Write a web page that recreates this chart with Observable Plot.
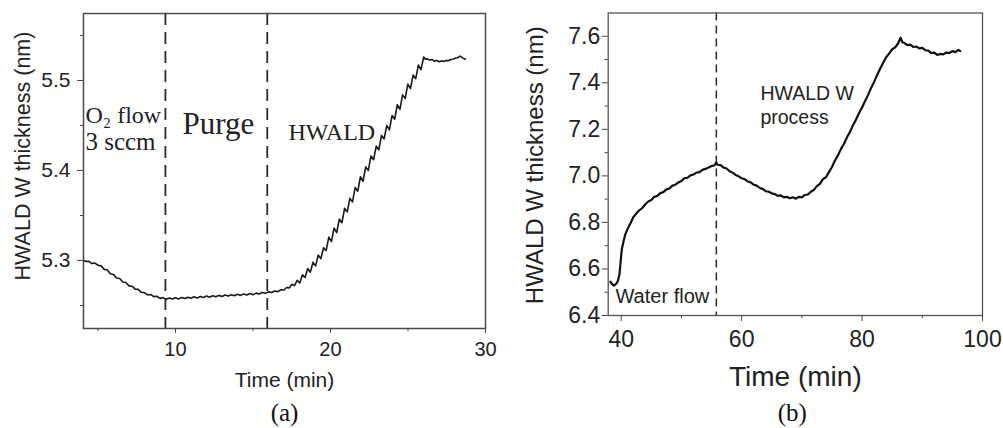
<!DOCTYPE html>
<html><head><meta charset="utf-8">
<script src="https://cdn.jsdelivr.net/npm/d3@7"></script>
<script src="https://cdn.jsdelivr.net/npm/@observablehq/plot@0.6"></script>
<style>
html,body{margin:0;padding:0;background:#fff;}
#wrap{display:flex;width:1003px;height:428px;overflow:hidden;}
</style></head><body><div id="wrap"><div id="pa"></div><div id="pb"></div></div>
<script>
// ---------- Panel (a) data: [time (min), thickness (nm)] ----------
const seriesA = [
[4.07,5.3003],[4.2,5.2990],[4.4,5.2992],[4.6,5.2966],[4.8,5.2971],[5.0,5.2947],[5.2,5.2940],[5.4,5.2901],
[5.6,5.2893],[5.8,5.2852],[6.0,5.2843],[6.2,5.2806],[6.4,5.2800],[6.6,5.2760],[6.8,5.2755],[7.0,5.2718],
[7.2,5.2714],[7.4,5.2681],[7.6,5.2679],[7.8,5.2646],[8.0,5.2642],[8.2,5.2617],[8.4,5.2622],[8.6,5.2598],
[8.8,5.2602],[9.0,5.2579],[9.2,5.2587],[9.4,5.2568],[9.6,5.2583],[9.8,5.2571],[10.0,5.2586],[10.2,5.2573],
[10.4,5.2589],[10.6,5.2577],[10.8,5.2592],[11.0,5.2580],[11.2,5.2596],[11.4,5.2584],[11.6,5.2600],[11.8,5.2588],
[12.0,5.2604],[12.2,5.2592],[12.4,5.2608],[12.6,5.2596],[12.8,5.2612],[13.0,5.2600],[13.2,5.2616],[13.4,5.2604],
[13.6,5.2620],[13.8,5.2608],[14.0,5.2624],[14.2,5.2612],[14.4,5.2628],[14.6,5.2616],[14.8,5.2632],[15.0,5.2620],
[15.2,5.2637],[15.4,5.2627],[15.6,5.2645],[15.8,5.2635],[16.0,5.2651],[16.2,5.2643],[16.4,5.2660],[16.6,5.2654],
[16.8,5.2674],
[17.00,5.2672],[17.17,5.2700],[17.34,5.2695],[17.51,5.2735],[17.68,5.2720],[17.85,5.2780],
[18.02,5.2750],[18.19,5.2840],[18.36,5.2810],[18.53,5.2910],[18.70,5.2870],[18.87,5.2980],
[19.04,5.2940],[19.21,5.3060],[19.38,5.3020],[19.55,5.3140],[19.72,5.3110],[19.89,5.3260],
[20.06,5.3210],[20.23,5.3360],[20.40,5.3310],[20.57,5.3460],[20.74,5.3420],[20.91,5.3580],
[21.08,5.3540],[21.25,5.3690],[21.42,5.3650],[21.59,5.3810],[21.76,5.3770],[21.93,5.3930],
[22.10,5.3880],[22.27,5.4040],[22.44,5.4000],[22.61,5.4160],[22.78,5.4120],[22.95,5.4270],
[23.12,5.4230],[23.29,5.4390],[23.46,5.4350],[23.63,5.4500],[23.80,5.4450],[23.97,5.4610],
[24.14,5.4570],[24.31,5.4730],[24.48,5.4680],[24.65,5.4840],[24.82,5.4800],[24.99,5.4960],
[25.16,5.4910],[25.33,5.5060],[25.50,5.5020],[25.67,5.5170],[25.84,5.5120],[26.01,5.5260],
[26.12,5.5235],[26.25,5.5240],[26.4,5.5228],[26.55,5.5232],[26.7,5.5215],[26.85,5.5222],[27.0,5.5208],
[27.15,5.5216],[27.3,5.5212],[27.45,5.5222],[27.6,5.5220],[27.75,5.5232],[27.9,5.5236],[28.05,5.5248],
[28.2,5.5252],[28.35,5.5270],[28.45,5.5262],[28.55,5.5248],[28.7,5.5236]
];
const dashTimesA = [9.35, 15.92];
const xTicksA = [10, 20, 30];
const xMinorA = [5, 15, 25];
const yTicksA = [5.3, 5.4, 5.5];
const yMinorA = [5.25, 5.35, 5.45, 5.55];
const labelsA = ["O\u2082 flow", "3 sccm", "Purge", "HWALD"];
const yTitle = "HWALD W thickness (nm)";
const xTitle = "Time (min)";

// ---------- Panel (b) data ----------
const seriesB = [
[38.2,6.545],[38.5,6.535],[38.8,6.528],[39.1,6.535],[39.4,6.545],[39.7,6.575],[39.9,6.630],[40.1,6.685],
[40.4,6.720],[40.7,6.750],[41.0,6.768],[41.3,6.785],[41.6,6.800],[42.0,6.822],[42.5,6.838],[43.0,6.852],
[43.5,6.862],[44.0,6.878],[44.5,6.890],[45.0,6.896],[45.5,6.910],[46.0,6.914],[46.5,6.926],[47.0,6.930],
[47.5,6.942],[48.0,6.946],[48.5,6.958],[49.0,6.962],[49.5,6.972],[50.0,6.978],[50.5,6.990],[51.0,6.992],
[51.5,7.002],[52.0,7.006],[52.5,7.014],[53.0,7.016],[53.5,7.026],[54.0,7.030],[54.5,7.036],[55.0,7.042],
[55.5,7.046],[55.8,7.058],[56.0,7.048],[56.5,7.046],[57.0,7.036],[57.5,7.032],[58.0,7.020],[58.5,7.014],
[59.0,7.004],[59.5,6.998],[60.0,6.990],[60.5,6.986],[61.0,6.976],[61.5,6.972],[62.0,6.962],[62.5,6.958],
[63.0,6.948],[63.5,6.944],[64.0,6.934],[64.5,6.932],[65.0,6.925],[65.5,6.922],[66.0,6.914],[66.5,6.916],
[67.0,6.908],[67.5,6.910],[68.0,6.904],[68.5,6.908],[69.0,6.902],[69.5,6.910],[70.0,6.908],[70.5,6.918],
[71.0,6.920],[71.5,6.932],[72.0,6.940],[72.5,6.956],[73.0,6.966],[73.5,6.986],[74.0,6.994],[74.5,7.016],
[75.0,7.038],[75.5,7.066],[76.0,7.088],[76.5,7.116],[77.0,7.138],[77.5,7.166],[78.0,7.190],[78.5,7.218],
[79.0,7.242],[79.5,7.270],[80.0,7.294],[80.5,7.322],[81.0,7.348],[81.5,7.378],[82.0,7.404],[82.5,7.434],
[83.0,7.460],[83.5,7.486],[84.0,7.510],[84.5,7.526],[85.0,7.544],[85.5,7.552],[86.0,7.570],[86.4,7.594],
[86.7,7.574],[87.0,7.572],[87.5,7.562],[88.0,7.564],[88.5,7.554],[89.0,7.556],[89.5,7.548],[90.0,7.550],
[90.5,7.540],[91.0,7.538],[91.5,7.528],[92.0,7.530],[92.5,7.520],[93.0,7.524],[93.5,7.522],[94.0,7.530],
[94.5,7.528],[95.0,7.536],[95.5,7.532],[96.0,7.542],[96.3,7.536]
];
const dashTimesB = [55.8];
const xTicksB = [40, 60, 80, 100];
const xMinorB = [50, 70, 90];
const yTicksB = [6.4, 6.6, 6.8, 7.0, 7.2, 7.4, 7.6];
const yMinorB = [6.5, 6.7, 6.9, 7.1, 7.3, 7.5];
const labelsB = ["Water flow", "HWALD W", "process"];
const captions = ["(a)", "(b)"];

const sans = "'Liberation Sans', Arial, Helvetica, sans-serif";
const serif = "'Liberation Serif', 'Times New Roman', serif";
const fmt1 = d3.format(".1f");
const txt = d => d;

const plotA = Plot.plot({
  width: 500, height: 428,
  marginLeft: 83, marginRight: 15, marginTop: 13, marginBottom: 100,
  x: {domain: [4.065, 30]},
  y: {domain: [5.2244, 5.5744]},
  style: {fontFamily: sans, color: "#222", background: "#fff", overflow: "visible"},
  marks: [
    Plot.ruleX(dashTimesA, {stroke: "#2a2a2a", strokeWidth: 1.8, strokeDasharray: "12,7"}),
    Plot.line(seriesA, {x: d => d[0], y: d => d[1], stroke: "#1a1a1a", strokeWidth: 1.6}),
    Plot.frame({stroke: "#4a4a4a", strokeWidth: 1.5}),
    Plot.axisX(xTicksA, {tickSize: 5, tickPadding: 8, fontSize: 20, label: null, stroke: "#444"}),
    Plot.axisX(xMinorA, {tickSize: 3, tickFormat: () => "", label: null, stroke: "#444"}),
    Plot.axisY(yTicksA, {tickSize: 6, tickPadding: 7, fontSize: 21, tickFormat: fmt1, label: null, stroke: "#444"}),
    Plot.axisY(yMinorA, {tickSize: 3, tickFormat: () => "", label: null, stroke: "#444"}),
    Plot.text([yTitle], {text: txt, frameAnchor: "left", rotate: -90, dx: -60, dy: -15, textAnchor: "middle", lineAnchor: "middle", fontSize: 21.5, fill: "#222"}),
    Plot.text([xTitle], {text: txt, frameAnchor: "bottom", dy: 52, textAnchor: "middle", lineAnchor: "middle", fontSize: 21, fill: "#222"}),
    Plot.text([captions[0]], {text: txt, frameAnchor: "bottom", dy: 84, textAnchor: "middle", lineAnchor: "middle", fontSize: 25, fontFamily: serif, fill: "#111"}),
    Plot.text([labelsA[0]], {text: txt, x: 4.19, y: 5.4522, textAnchor: "start", lineAnchor: "bottom", fontSize: 24, fontFamily: serif, fill: "#222"}),
    Plot.text([labelsA[1]], {text: txt, x: 4.19, y: 5.4222, textAnchor: "start", lineAnchor: "bottom", fontSize: 25, fontFamily: serif, fill: "#222"}),
    Plot.text([labelsA[2]], {text: txt, x: 12.77, y: 5.441, textAnchor: "middle", lineAnchor: "bottom", fontSize: 31, fontFamily: serif, fill: "#222"}),
    Plot.text([labelsA[3]], {text: txt, x: 17.29, y: 5.434, textAnchor: "start", lineAnchor: "bottom", fontSize: 24, fontFamily: serif, fill: "#222"})
  ]
});

const plotB = Plot.plot({
  width: 503, height: 428,
  marginLeft: 107.7, marginRight: 21, marginTop: 12.5, marginBottom: 113,
  x: {domain: [37.84, 100]},
  y: {domain: [6.4, 7.7]},
  style: {fontFamily: sans, color: "#222", background: "#fff", overflow: "visible"},
  marks: [
    Plot.ruleX(dashTimesB, {stroke: "#2a2a2a", strokeWidth: 1.5, strokeDasharray: "8,5"}),
    Plot.line(seriesB, {x: d => d[0], y: d => d[1], stroke: "#111", strokeWidth: 2.2}),
    Plot.frame({stroke: "#555", strokeWidth: 1.3}),
    Plot.axisX(xTicksB, {tickSize: 6, tickPadding: 9, fontSize: 23, label: null, stroke: "#444"}),
    Plot.axisX(xMinorB, {tickSize: 3, tickFormat: () => "", label: null, stroke: "#444"}),
    Plot.axisY(yTicksB, {tickSize: 6, tickPadding: 2, fontSize: 23, tickFormat: fmt1, label: null, stroke: "#444"}),
    Plot.axisY(yMinorB, {tickSize: 3, tickFormat: () => "", label: null, stroke: "#444"}),
    Plot.text([yTitle], {text: txt, frameAnchor: "left", rotate: -90, dx: -72.7, dy: 1, textAnchor: "middle", lineAnchor: "middle", fontSize: 24, fill: "#222"}),
    Plot.text([xTitle], {text: txt, frameAnchor: "bottom", dy: 62, textAnchor: "middle", lineAnchor: "middle", fontSize: 28, fill: "#222"}),
    Plot.text([captions[1]], {text: txt, frameAnchor: "bottom", dy: 97, dx: -3, textAnchor: "middle", lineAnchor: "middle", fontSize: 25, fontFamily: serif, fill: "#111"}),
    Plot.text([labelsB[0]], {text: txt, x: 39.05, y: 6.452, textAnchor: "start", lineAnchor: "bottom", fontSize: 20, fill: "#222"}),
    Plot.text([labelsB[1]], {text: txt, x: 63.12, y: 7.324, textAnchor: "start", lineAnchor: "bottom", fontSize: 19.5, fill: "#222"}),
    Plot.text([labelsB[2]], {text: txt, x: 63.12, y: 7.225, textAnchor: "start", lineAnchor: "bottom", fontSize: 19.5, fill: "#222"})
  ]
});

document.getElementById("pa").appendChild(plotA);
document.getElementById("pb").appendChild(plotB);
</script></body></html>
